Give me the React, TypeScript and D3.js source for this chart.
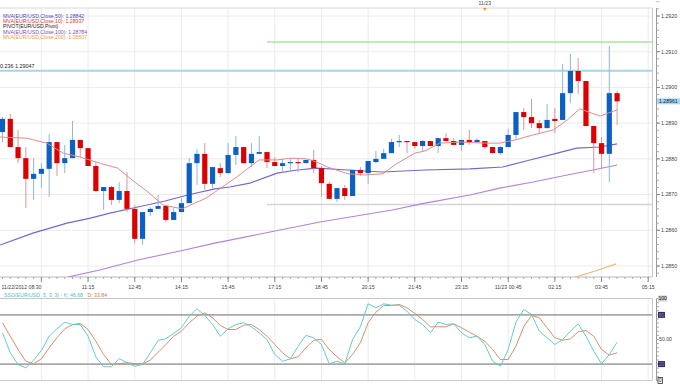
import React from 'react';
import * as d3 from 'd3';

// EUR/USD 15 minute bars, 11/22/2012 08:30 onwards
const opens = [1.28875,1.28912,1.28833,1.28802,1.28744,1.28758,1.28772,1.28847,1.28788,1.28802,
  1.28853,1.28830,1.28780,1.28710,1.28721,1.28685,1.28710,1.28660,1.28576,1.28651,
  1.28660,1.28668,1.28629,1.28651,1.28676,1.28788,1.28814,1.28730,1.28774,1.28760,
  1.28811,1.28833,1.28788,1.28814,1.28819,1.28791,1.28780,1.28788,1.28791,1.28788,
  1.28797,1.28774,1.28730,1.28688,1.28718,1.28696,1.28769,1.28760,1.28791,1.28800,
  1.28816,1.28847,1.28850,1.28847,1.28836,1.28850,1.28836,1.28858,1.28850,1.28839,
  1.28853,1.28847,1.28850,1.28833,1.28816,1.28833,1.28867,1.28931,1.28917,1.28900,
  1.28886,1.28912,1.28909,1.28984,1.29046,1.29018,1.28892,1.28844,1.28814,1.28984];
const highs = [1.28917,1.28926,1.28881,1.28833,1.28802,1.28788,1.28870,1.28847,1.28839,1.28906,
  1.28853,1.28830,1.28791,1.28721,1.28724,1.28735,1.28763,1.28671,1.28651,1.28665,
  1.28699,1.28671,1.28662,1.28690,1.28802,1.28828,1.28844,1.28777,1.28788,1.28844,
  1.28864,1.28833,1.28844,1.28864,1.28819,1.28805,1.28800,1.28802,1.28802,1.28797,
  1.28825,1.28780,1.28735,1.28718,1.28727,1.28769,1.28777,1.28794,1.28822,1.28828,
  1.28856,1.28867,1.28850,1.28847,1.28853,1.28850,1.28858,1.28872,1.28858,1.28853,
  1.28881,1.28858,1.28850,1.28833,1.28836,1.28884,1.28931,1.28942,1.28968,1.28909,
  1.28954,1.28942,1.29066,1.29094,1.29082,1.29018,1.28892,1.28861,1.29116,1.28990];
const lows = [1.28847,1.28833,1.28788,1.28662,1.28685,1.28718,1.28693,1.28752,1.28760,1.28802,
  1.28805,1.28780,1.28707,1.28657,1.28671,1.28676,1.28651,1.28564,1.28559,1.28640,
  1.28660,1.28623,1.28629,1.28651,1.28676,1.28727,1.28713,1.28718,1.28749,1.28760,
  1.28783,1.28788,1.28777,1.28814,1.28774,1.28780,1.28760,1.28769,1.28763,1.28788,
  1.28760,1.28693,1.28688,1.28679,1.28685,1.28696,1.28752,1.28730,1.28788,1.28800,
  1.28816,1.28833,1.28816,1.28828,1.28819,1.28836,1.28816,1.28850,1.28839,1.28822,
  1.28839,1.28847,1.28828,1.28816,1.28811,1.28833,1.28853,1.28881,1.28886,1.28872,
  1.28886,1.28872,1.28909,1.28956,1.28982,1.28892,1.28760,1.28774,1.28735,1.28895];
const closes = [1.28912,1.28833,1.28802,1.28744,1.28758,1.28772,1.28847,1.28788,1.28802,1.28853,
  1.28830,1.28780,1.28710,1.28721,1.28685,1.28710,1.28660,1.28576,1.28651,1.28660,
  1.28668,1.28629,1.28651,1.28676,1.28788,1.28814,1.28730,1.28777,1.28760,1.28811,
  1.28833,1.28788,1.28814,1.28819,1.28791,1.28780,1.28788,1.28791,1.28788,1.28797,
  1.28774,1.28732,1.28688,1.28718,1.28696,1.28769,1.28760,1.28794,1.28800,1.28816,
  1.28847,1.28850,1.28847,1.28836,1.28850,1.28836,1.28858,1.28850,1.28839,1.28853,
  1.28847,1.28853,1.28833,1.28816,1.28833,1.28867,1.28931,1.28917,1.28900,1.28886,
  1.28909,1.28906,1.28984,1.29046,1.29018,1.28892,1.28844,1.28814,1.28984,1.28961];

// moving averages: [bar, price]
const ma10 = [[-0.3,1.28861],[3.1,1.28858],[5.7,1.28844],[7.8,1.28816],[10,1.28805],[12.5,1.28788],
  [14.8,1.28774],[17,1.28735],[18.7,1.28707],[20.6,1.28671],[23.1,1.2866],[24.7,1.28676],[26,1.28688],
  [27.3,1.28707],[29.9,1.28746],[33,1.28797],[35.3,1.28797],[37,1.28802],[39.1,1.288],[40.4,1.28791],
  [41.8,1.28777],[44.4,1.28758],[46.6,1.28755],[48.9,1.28758],[50.4,1.28783],[53,1.28816],[54.3,1.28822],
  [56.2,1.28844],[58.8,1.28847],[62.3,1.28844],[63.9,1.28844],[65.9,1.28853],[68.2,1.28867],[70.8,1.28881],
  [72.6,1.28909],[74.2,1.2894],[76.8,1.2892],[79,1.28937]];
const ma50 = [[-0.3,1.28559],[3.9,1.28592],[8.3,1.2862],[11.3,1.28634],[13.8,1.28648],[17.4,1.28665],
  [20.9,1.28682],[23.8,1.28699],[27.3,1.28716],[29.2,1.28721],[31.8,1.28732],[35.3,1.2876],[37.9,1.28769],
  [40.4,1.28774],[44.4,1.28769],[48.8,1.28763],[54.3,1.28769],[60.1,1.28772],[64.3,1.28777],[67.8,1.28797],
  [71.3,1.28816],[73.8,1.2883],[76.8,1.28833],[79,1.28842]];
const ma100 = [[8.4,1.28469],[12.5,1.28489],[17.4,1.28517],[22.8,1.28542],[27.3,1.28564],[34.4,1.28595],
  [40.8,1.28623],[50.1,1.28657],[54.3,1.28676],[60.1,1.28699],[63.9,1.28718],[68.2,1.28735],[72.6,1.28755],
  [75.9,1.28769],[79,1.28783]];
const ma200 = [[73.6,1.28469],[76.2,1.28486],[78.9,1.28506]];

const fibLevel = 1.29047;
const greenLevel = 1.29127;
const pivotLevel = 1.28672;
const lastPrice = 1.28961;

// slow stochastic %K / %D
const stochK = [58.2,33.8,19.5,15.5,24.8,36.6,54.0,63.0,71.1,68.3,
  68.3,54.0,28.9,16.7,16.7,26.8,21.6,17.4,19.5,33.8,
  48.8,50.9,57.3,64.3,78.4,87.4,79.3,68.3,54.0,63.0,
  68.3,70.4,65.5,58.2,50.0,31.7,23.5,26.5,41.8,54.9,
  52.1,43.9,20.4,23.5,20.0,50.0,65.5,93.5,88.6,93.5,
  91.9,91.8,84.5,74.4,68.3,58.2,71.1,68.3,69.1,58.2,
  52.1,54.0,43.9,23.5,17.4,37.8,71.1,86.6,80.5,60.1,
  52.1,43.9,50.0,60.1,69.1,54.0,35.8,20.4,31.7,46.68];
const stochD = [70.4,54.0,37.8,23.5,20.4,26.5,39.9,52.1,63.0,68.3,
  69.5,62.2,47.9,31.7,19.5,20.4,21.6,20.7,20.4,24.8,
  34.5,43.9,54.0,60.1,70.4,78.4,82.6,76.5,67.1,62.2,
  62.2,67.4,68.3,62.2,54.0,43.9,33.8,26.5,28.9,39.9,
  49.1,50.0,37.8,28.9,21.3,31.7,46.0,70.4,83.3,91.5,
  91.5,92.7,88.6,81.7,74.4,65.5,65.5,65.5,69.1,64.3,
  58.9,54.0,47.9,37.8,25.6,25.6,41.8,65.5,79.3,76.5,
  64.3,52.1,49.1,50.8,59.4,61.0,54.0,37.8,30.9,33.84];

const majorBars = [5, 11, 17, 23, 29, 35, 41, 47, 53, 59, 65, 71, 77, 83];
const timeLabels = ['', '11:15', '12:45', '14:15', '15:45', '17:15', '18:45', '20:15', '21:45', '23:15', '11/23 00:45', '02:15', '03:45', '05:15'];
const firstLabel = '11/22/2012 08:30';
const priceTicks = [1.285, 1.286, 1.287, 1.288, 1.289, 1.29, 1.291, 1.292];
const legend = [
  { text: 'MVA(EUR/USD,Close,50): 1.28842', color: '#4a44c8' },
  { text: 'MVA(EUR/USD,Close,10): 1.28937', color: '#e03a3a' },
  { text: 'PIVOT(EUR/USD,Pivot)', color: '#222' },
  { text: 'MVA(EUR/USD,Close,100): 1.28784', color: '#8a48c8' },
  { text: 'MVA(EUR/USD,Close,200): 1.28507', color: '#e8a040' },
];

const FONT = 'Liberation Sans, Arial, sans-serif';
const W = 680, H = 385;
const plotR = 652, mainTop = 8, mainBot = 277, oscTop = 298.5, oscBot = 380.5;

export default function App() {
  const x = d3.scaleLinear().domain([0, 83]).range([2.5, 648.2]);
  const y = d3.scaleLinear().domain([1.285, 1.292]).range([266, 16]);
  const yo = d3.scaleLinear().domain([0, 100]).range([oscBot, oscTop]);

  const maLine = d3.line<number[]>().x(d => x(d[0])).y(d => y(d[1]));
  const oscLine = d3.line<number>().x((_, i) => x(i)).y(d => yo(d));

  const minorPrice = d3.range(1.2848, 1.2924, 0.0002);
  const bars = d3.range(0, 84);

  return (
    <svg width={W} height={H} style={{ position: 'absolute', left: 0, top: 0, background: '#fff' }} fontFamily={FONT}>
      <defs>
        <clipPath id="mainClip"><rect x={0} y={mainTop} width={plotR} height={mainBot - mainTop} /></clipPath>
      </defs>

      {/* grid */}
      {majorBars.map(b => (
        <g key={'g' + b}>
          <line x1={x(b)} x2={x(b)} y1={mainTop} y2={mainBot} stroke="#ebebeb" />
          <line x1={x(b)} x2={x(b)} y1={oscTop} y2={oscBot} stroke="#ebebeb" />
        </g>
      ))}
      {priceTicks.map(p => (
        <line key={'h' + p} x1={0} x2={plotR} y1={y(p)} y2={y(p)} stroke="#ebebeb" />
      ))}

      {/* frames */}
      <line x1={0} x2={plotR} y1={mainTop} y2={mainTop} stroke="#d8d8d8" />
      <line x1={plotR + 0.5} x2={plotR + 0.5} y1={mainTop} y2={mainBot} stroke="#c8c8c8" />
      <line x1={0} x2={plotR} y1={mainBot} y2={mainBot} stroke="#b8b8b8" />
      <line x1={656.5} x2={656.5} y1={mainTop} y2={mainBot} stroke="#999" />

      <g clipPath="url(#mainClip)">
        {/* levels */}
        <line x1={0} x2={plotR} y1={y(fibLevel)} y2={y(fibLevel)} stroke="#a6d6de" strokeWidth={2} />
        <line x1={x(34)} x2={plotR} y1={y(greenLevel)} y2={y(greenLevel)} stroke="#ace3a4" strokeWidth={1.5} />
        <line x1={x(34)} x2={plotR} y1={y(pivotLevel)} y2={y(pivotLevel)} stroke="#d4d4d4" strokeWidth={1.5} />

        {/* moving averages */}
        <path d={maLine(ma100) || ''} fill="none" stroke="#b184dc" strokeWidth={1.1} />
        <path d={maLine(ma200) || ''} fill="none" stroke="#f0b870" strokeWidth={1.1} />
        <path d={maLine(ma50) || ''} fill="none" stroke="#7466d4" strokeWidth={1.1} />

        {/* candles */}
        {opens.map((o, i) => {
          const c = closes[i];
          const up = c >= o;
          const top = y(Math.max(o, c));
          const h = Math.max(1.2, Math.abs(y(o) - y(c)));
          return (
            <g key={i}>
              <line x1={x(i)} x2={x(i)} y1={y(highs[i])} y2={y(lows[i])} stroke={up ? '#8cb8dc' : '#d89898'} strokeWidth={1} />
              <rect x={x(i) - 2.6} y={top} width={5.2} height={h} fill={up ? '#0b60c2' : '#dc0000'} />
            </g>
          );
        })}

        <path d={maLine(ma10) || ''} fill="none" stroke="#e08c8c" strokeWidth={1} />
      </g>

      {/* fib label */}
      <text x={0} y={y(fibLevel) - 3} fontSize={5.4} fill="#222">0.236 1.29047</text>

      {/* legend */}
      {legend.map((l, i) => (
        <text key={l.text} x={3} y={17.5 + i * 5.4} fontSize={5.2} fill={l.color}>{l.text}</text>
      ))}

      {/* top day marker */}
      <text x={x(62)} y={5} fontSize={5.2} fill="#444" textAnchor="middle">11/23</text>
      <path d={`M${x(62) - 2},${mainTop} L${x(62) + 2},${mainTop} L${x(62)},${mainTop + 3} Z`} fill="#f0a030" />

      {/* price axis */}
      {minorPrice.map(p => (
        <line key={'mp' + p} x1={656.5} x2={659} y1={y(p)} y2={y(p)} stroke="#aaa" />
      ))}
      {priceTicks.map(p => (
        <g key={'pt' + p}>
          <line x1={656.5} x2={660} y1={y(p)} y2={y(p)} stroke="#888" />
          <text x={661} y={y(p) + 1.8} fontSize={5.3} fill="#444">{p.toFixed(4)}</text>
        </g>
      ))}
      <rect x={657} y={y(lastPrice) - 3} width={23} height={6} fill="#a6d8f2" />
      <text x={659} y={y(lastPrice) + 1.9} fontSize={5.2} fill="#123">{lastPrice.toFixed(5)}</text>

      {/* time axis */}
      {bars.map(b => (
        <line key={'tb' + b} x1={x(b)} x2={x(b)} y1={mainBot} y2={mainBot + 2} stroke="#aaa" />
      ))}
      {majorBars.map((b, i) => (
        <g key={'tl' + b}>
          <line x1={x(b)} x2={x(b)} y1={mainBot} y2={mainBot + 5} stroke="#888" />
          {timeLabels[i] && (
            <text x={x(b)} y={289} fontSize={5.2} fill="#444" textAnchor="middle">{timeLabels[i]}</text>
          )}
        </g>
      ))}
      <text x={1.5} y={289} fontSize={5.2} fill="#444">{firstLabel}</text>

      {/* oscillator panel */}
      <line x1={0} x2={plotR} y1={oscTop} y2={oscTop} stroke="#c8c8c8" />
      <line x1={0} x2={plotR} y1={yo(80)} y2={yo(80)} stroke="#a8a8a8" strokeWidth={1.6} />
      <line x1={0} x2={plotR} y1={yo(20)} y2={yo(20)} stroke="#a8a8a8" strokeWidth={1.6} />
      <line x1={0} x2={plotR} y1={oscBot} y2={oscBot} stroke="#c8c8c8" />
      <line x1={plotR + 0.5} x2={plotR + 0.5} y1={oscTop} y2={oscBot} stroke="#c8c8c8" />
      <line x1={656.5} x2={656.5} y1={oscTop} y2={oscBot} stroke="#999" />
      {d3.range(0, 101, 5).map(v => (
        <line key={'ot' + v} x1={656.5} x2={659} y1={yo(v)} y2={yo(v)} stroke="#aaa" />
      ))}
      <path d={oscLine(stochD) || ''} fill="none" stroke="#d4906c" strokeWidth={1} />
      <path d={oscLine(stochK) || ''} fill="none" stroke="#62cccc" strokeWidth={1} />

      <text x={4} y={297} fontSize={5.2}>
        <tspan fill="#4cc0c0">SSO(EUR/USD, 5, 3, 3) - K: 46.68 </tspan>
        <tspan fill="#d07a50" dx={3}>D: 33.84</tspan>
      </text>

      <rect x={658} y={yo(100) - 3} width={9} height={6} fill="#cfcfcf" />
      <text x={658.5} y={yo(100) + 1.9} fontSize={5} fill="#111">100</text>
      <rect x={658} y={yo(80) - 3} width={7} height={6} fill="#2e2e60" />
      <text x={658.8} y={yo(80) + 1.9} fontSize={5} fill="#8888c8">80</text>
      <text x={659} y={yo(50) + 1.9} fontSize={5.2} fill="#444">50.00</text>
      <rect x={658} y={yo(20) - 3} width={7} height={6} fill="#2e2e60" />
      <text x={658.8} y={yo(20) + 1.9} fontSize={5} fill="#8888c8">20</text>
      <rect x={658} y={yo(0) - 3} width={4.5} height={6} fill="#fff" stroke="#333" strokeWidth={0.8} />
      <text x={658.7} y={yo(0) + 1.9} fontSize={5} fill="#111">0</text>
    </svg>
  );
}
